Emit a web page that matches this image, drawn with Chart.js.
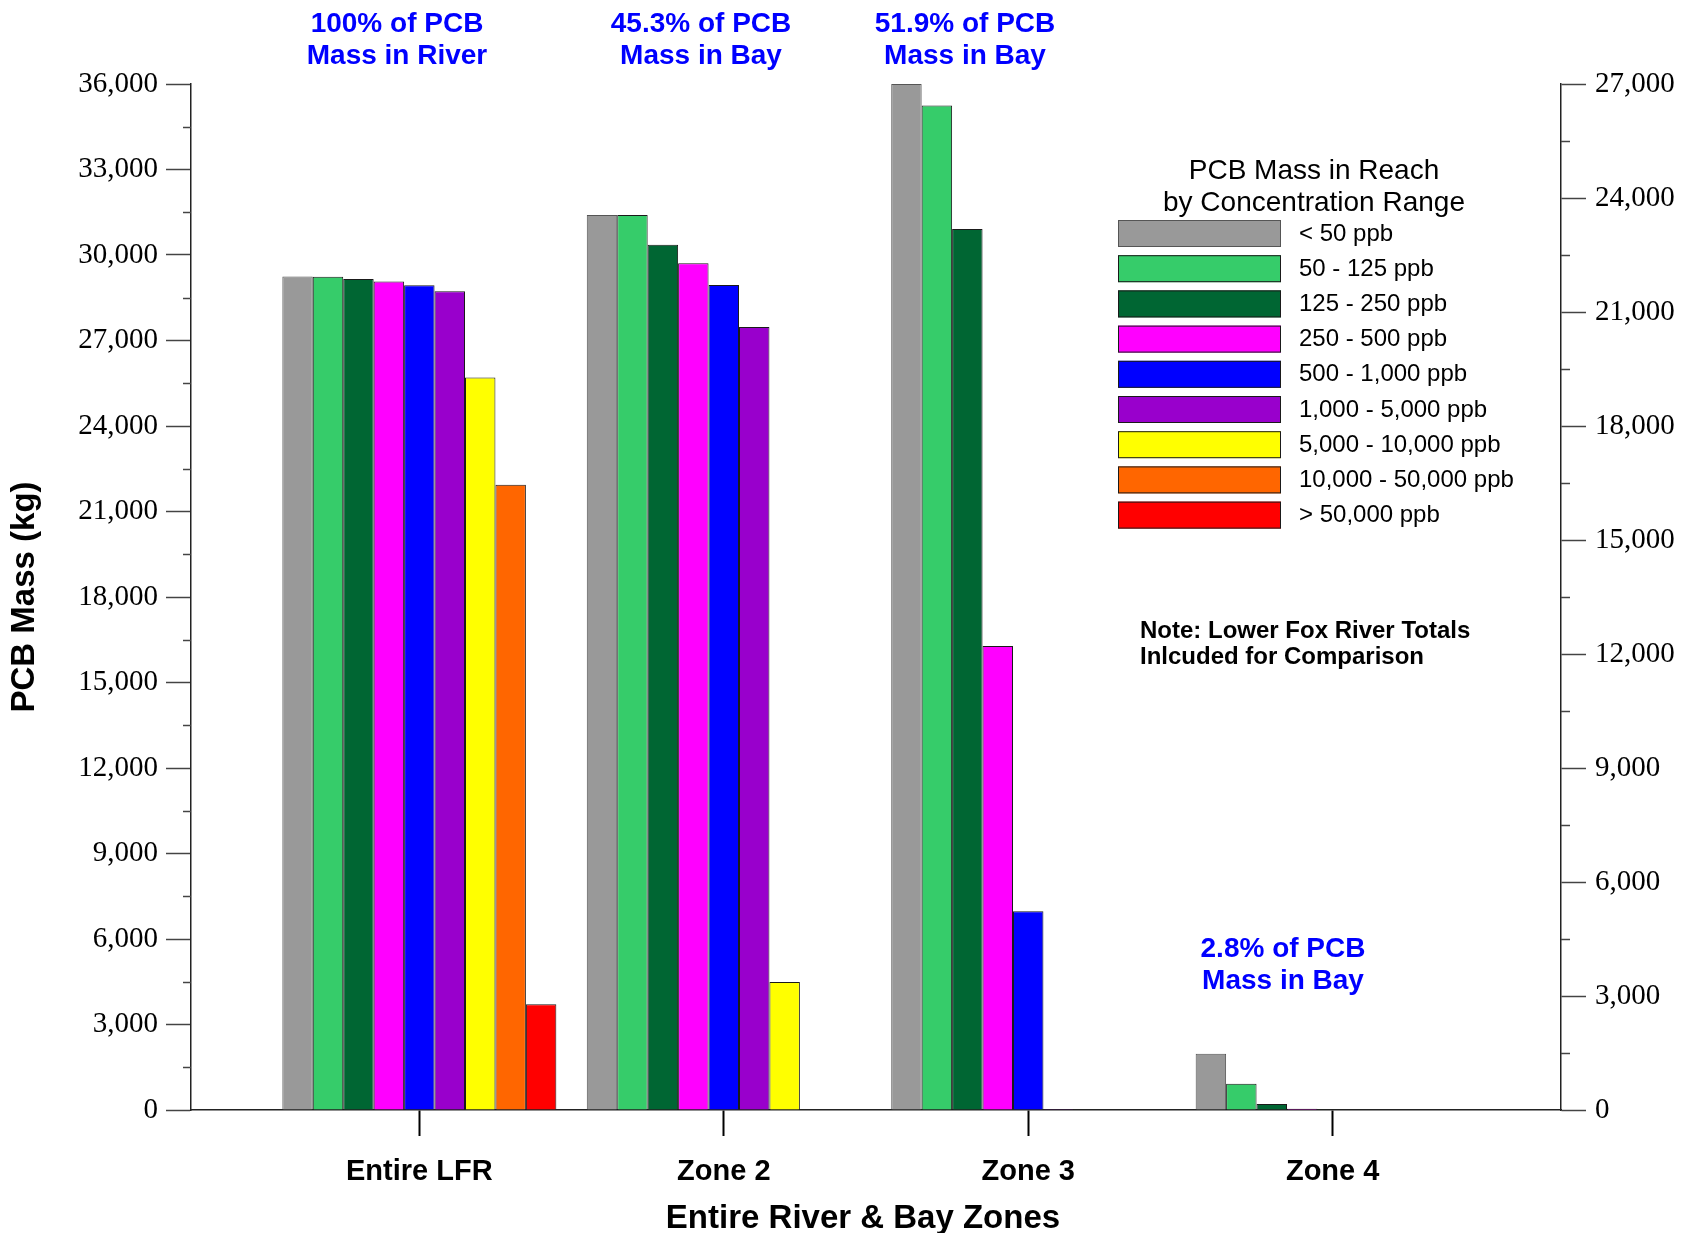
<!DOCTYPE html>
<html>
<head>
<meta charset="utf-8">
<script src="https://cdn.jsdelivr.net/npm/chart.js"></script>
<style>
    html, body { margin: 0; padding: 0; background: #ffffff; }
    #chart { display: block; }
</style>
</head>
<body>
<canvas id="chart" width="1686" height="1233"></canvas>
<script>
    // categories on the x axis
    const zones = ['Entire LFR', 'Zone 2', 'Zone 3', 'Zone 4'];

    // PCB mass (kg) per concentration range, one value per zone
    const lt50 = [29250, 31400, 36000, 1970];
    const r50to125 = [29240, 31400, 35250, 920];
    const r125to250 = [29160, 30360, 30910, 210];
    const r250to500 = [29070, 29710, 16280, 45];
    const r500to1000 = [28940, 28950, 6970, 0];
    const r1000to5000 = [28730, 27470, 35, 0];
    const r5000to10000 = [25700, 4490, 0, 0];
    const r10000to50000 = [21940, 0, 0, 0];
    const gt50000 = [3710, 0, 0, 0];

    const rangeLabels = ['< 50 ppb', '50 - 125 ppb', '125 - 250 ppb', '250 - 500 ppb', '500 - 1,000 ppb',
        '1,000 - 5,000 ppb', '5,000 - 10,000 ppb', '10,000 - 50,000 ppb', '> 50,000 ppb'];
    const rangeColors = ['#999999', '#36cc6a', '#006633', '#ff00ff', '#0000ff',
        '#9900cc', '#ffff00', '#ff6600', '#ff0000'];

    // tick values for the two y axes
    const leftMax = 36000;
    const rightMax = 27000;
    const tickStep = 3000;

    const series = [lt50, r50to125, r125to250, r250to500, r500to1000,
        r1000to5000, r5000to10000, r10000to50000, gt50000];

    const datasets = series.map((vals, k) => ({
        label: rangeLabels[k],
        data: vals.map((v, i) => ({ x: i, y: v })),
        backgroundColor: rangeColors[k],
        borderColor: k === 0 ? '#555555' : '#1a1a1a',
        borderWidth: 1,
        yAxisID: 'y'
    }));

    const fmt = v => Math.round(v).toLocaleString('en-US');
    const sans = '"Liberation Sans", Arial, sans-serif';
    const serif = '"Liberation Serif", "Times New Roman", serif';

    // blue share notes, legend, note text, x title and minor ticks
    const extras = {
        id: 'extras',
        afterDraw(chart) {
            const ctx = chart.ctx;
            ctx.save();

            // minor ticks
            const yl = chart.scales.y, yr = chart.scales.y2;
            ctx.strokeStyle = '#444';
            ctx.lineWidth = 1.5;
            for (let v = tickStep / 2; v < leftMax; v += tickStep) {
                const py = Math.round(yl.getPixelForValue(v)) + 0.5;
                ctx.beginPath(); ctx.moveTo(yl.right - 8, py); ctx.lineTo(yl.right, py); ctx.stroke();
            }
            for (let v = tickStep / 2; v < rightMax; v += tickStep) {
                const py = Math.round(yr.getPixelForValue(v)) + 0.5;
                ctx.beginPath(); ctx.moveTo(yr.left, py); ctx.lineTo(yr.left + 9, py); ctx.stroke();
            }

            // blue share annotations
            const shares = [
                { lines: ['100% of PCB', 'Mass in River'], x: 397, y: 24 },
                { lines: ['45.3% of PCB', 'Mass in Bay'], x: 701, y: 24 },
                { lines: ['51.9% of PCB', 'Mass in Bay'], x: 965, y: 24 },
                { lines: ['2.8% of PCB', 'Mass in Bay'], x: 1283, y: 949 }
            ];
            ctx.fillStyle = '#0000ff';
            ctx.font = 'bold 28px ' + sans;
            ctx.textAlign = 'center';
            ctx.textBaseline = 'middle';
            shares.forEach(s => {
                s.lines.forEach((t, j) => ctx.fillText(t, s.x, s.y + j * 32));
            });

            // x axis title
            ctx.fillStyle = '#000';
            ctx.font = 'bold 33px ' + sans;
            ctx.fillText('Entire River & Bay Zones', 863, 1219);

            // legend
            ctx.font = '28px ' + sans;
            ctx.fillText('PCB Mass in Reach', 1314, 171);
            ctx.fillText('by Concentration Range', 1314, 203);
            ctx.textAlign = 'left';
            ctx.font = '24px ' + sans;
            chart.data.datasets.forEach((ds, i) => {
                const top = 220 + i * 35.2;
                ctx.fillStyle = ds.backgroundColor;
                ctx.fillRect(1118, top, 163, 27);
                ctx.strokeStyle = ds.borderColor;
                ctx.lineWidth = 1;
                ctx.strokeRect(1118.5, top + 0.5, 162, 26);
                ctx.fillStyle = '#000';
                ctx.fillText(ds.label, 1299, top + 14);
            });

            // note
            ctx.font = 'bold 24px ' + sans;
            ctx.fillText('Note: Lower Fox River Totals', 1140, 631);
            ctx.fillText('Inlcuded for Comparison', 1140, 657);

            ctx.restore();
        }
    };

    new Chart(document.getElementById('chart'), {
        type: 'bar',
        data: { datasets: datasets },
        options: {
            responsive: false,
            animation: false,
            categoryPercentage: 0.9,
            barPercentage: 1.0,
            layout: { padding: { top: 84, left: 0, right: 0, bottom: 0 } },
            plugins: {
                legend: { display: false },
                tooltip: { enabled: false }
            },
            scales: {
                x: {
                    type: 'linear',
                    min: -0.75,
                    max: 3.75,
                    offset: false,
                    afterBuildTicks: scale => { scale.ticks = zones.map((z, i) => ({ value: i })); },
                    afterFit: scale => { scale.height = 123; },
                    grid: { offset: false, drawOnChartArea: false, tickLength: 26, tickColor: '#000', tickWidth: 2 },
                    border: { color: '#222', width: 1.5 },
                    ticks: {
                        autoSkip: false,
                        maxRotation: 0,
                        padding: 19,
                        color: '#000',
                        font: { family: sans, size: 29, weight: 'bold' },
                        callback: v => zones[v]
                    }
                },
                y: {
                    position: 'left',
                    min: 0,
                    max: leftMax,
                    afterFit: scale => { scale.width = 191; },
                    grid: { drawOnChartArea: false, tickLength: 25, tickColor: '#444', tickWidth: 1.5 },
                    border: { color: '#222', width: 1.5 },
                    ticks: {
                        stepSize: tickStep,
                        padding: 8,
                        color: '#000',
                        font: { family: serif, size: 29 },
                        callback: fmt
                    },
                    title: {
                        display: true,
                        text: 'PCB Mass (kg)',
                        color: '#000',
                        padding: { top: 7, bottom: 0 },
                        font: { family: sans, size: 33, weight: 'bold', lineHeight: 1.1 }
                    }
                },
                y2: {
                    position: 'right',
                    min: 0,
                    max: rightMax,
                    afterFit: scale => { scale.width = 125; },
                    grid: { drawOnChartArea: false, tickLength: 25, tickColor: '#444', tickWidth: 1.5 },
                    border: { color: '#222', width: 1.5 },
                    ticks: {
                        stepSize: tickStep,
                        padding: 9,
                        color: '#000',
                        font: { family: serif, size: 29 },
                        callback: fmt
                    }
                }
            }
        },
        plugins: [extras]
    });
</script>
</body>
</html>
